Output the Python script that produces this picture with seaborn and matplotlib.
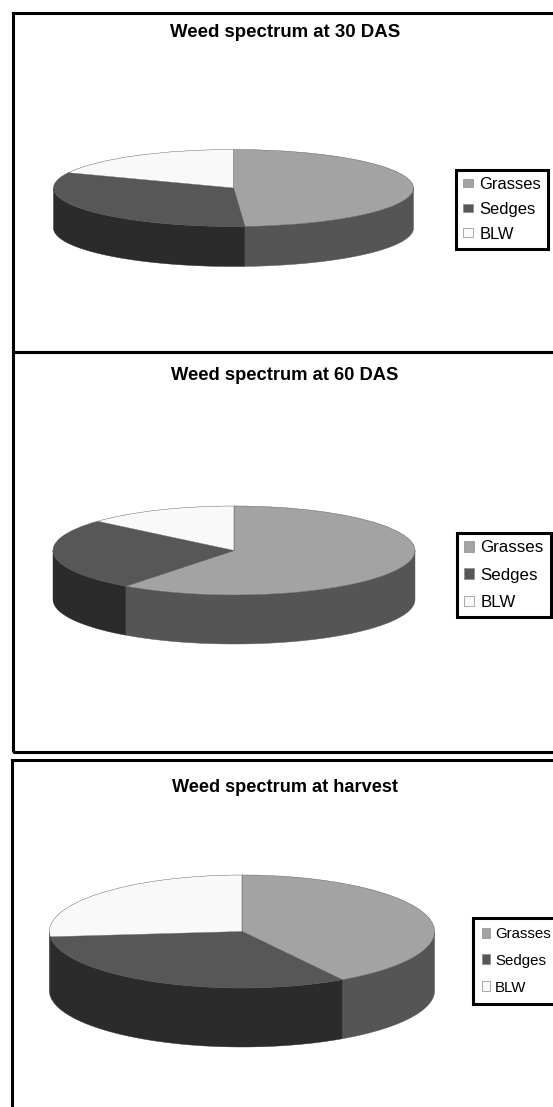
import numpy as np
import matplotlib
matplotlib.use("Agg")
import matplotlib.pyplot as plt
from matplotlib.patches import Patch, Rectangle
import seaborn as sns

# Share of each weed group (%)
categories = ["Grasses", "Sedges", "BLW"]
values_30_das = [49.0, 32.5, 18.5]
values_60_das = [60.2, 26.2, 13.6]
values_harvest = [41.3, 32.2, 26.5]
titles = ["Weed spectrum at 30 DAS", "Weed spectrum at 60 DAS", "Weed spectrum at harvest"]

WIDTH, HEIGHT = 553, 1107

sns.set_theme(style="white")
plt.rcParams["font.family"] = ["Liberation Sans", "DejaVu Sans"]

top_colors = sns.color_palette(["#a3a3a3", "#575757", "#f9f9f9"])
wall_colors = sns.color_palette(["#555555", "#2b2b2b", "#2b2b2b"])

# Page layout in pixels, measured from the top left corner
panels = [
    dict(values=values_30_das, title=titles[0], frame=(13, 13, 640, 352),
         cx=233.5, rx=180, cy=188, ry=38.5, depth=40,
         title_y=32.5, title_size=13.4,
         legend_xy=(456, 170), legend_size=11.9,
         spacing=0.6, pad=0.42, handle=(0.62, 0.45), gap=0.38),
    dict(values=values_60_das, title=titles[1], frame=(13, 352, 640, 752),
         cx=234, rx=181, cy=550.5, ry=44.5, depth=49,
         title_y=375, title_size=13.2,
         legend_xy=(457, 533), legend_size=12.2,
         spacing=0.72, pad=0.44, handle=(0.56, 0.6), gap=0.38),
    dict(values=values_harvest, title=titles[2], frame=(11.5, 760, 640, 1180),
         cx=242, rx=192.6, cy=931.5, ry=56.5, depth=59,
         title_y=787, title_size=13.1,
         legend_xy=(473, 918), legend_size=10.8,
         spacing=0.85, pad=0.6, handle=(0.54, 0.65), gap=0.32),
]


def draw_walls(ax, values, depth, colors):
    """Extrude the front half of the pie downward, slice by slice."""
    edges = np.cumsum([0.0] + list(values)) / np.sum(values) * 360.0
    for start, end, color in zip(edges[:-1], edges[1:], colors):
        lo, hi = max(start, 90.0), min(end, 270.0)
        if hi <= lo:
            continue
        t = np.radians(np.linspace(lo, hi, 120))
        x, y = np.sin(t), np.cos(t)
        ax.fill(np.r_[x, x[::-1]], np.r_[y, (y - depth)[::-1]],
                color=color, lw=0.3, clip_on=False, zorder=1)


fig = plt.figure(figsize=(WIDTH / 100, HEIGHT / 100), dpi=100, facecolor="white")

for p in panels:
    # Outer chart border; the right side runs off the page
    x0, y0, x1, y1 = p["frame"]
    fig.add_artist(Rectangle((x0 / WIDTH, 1 - y1 / HEIGHT), (x1 - x0) / WIDTH, (y1 - y0) / HEIGHT,
                             transform=fig.transFigure, fill=False, ec="black", lw=2.2))

    # The axes hug the tilted pie: one data unit equals rx across and ry down
    depth_units = p["depth"] / p["ry"]
    bottom_px = p["cy"] + p["ry"] + p["depth"]
    ax = fig.add_axes([(p["cx"] - p["rx"]) / WIDTH, 1 - bottom_px / HEIGHT,
                       2 * p["rx"] / WIDTH, (p["ry"] * 2 + p["depth"]) / HEIGHT])
    draw_walls(ax, p["values"], depth_units, wall_colors)
    wedges, _ = ax.pie(p["values"], startangle=90, counterclock=False, colors=top_colors,
                       radius=1, wedgeprops=dict(edgecolor="#555555", linewidth=0.3))
    for w in wedges:
        w.set_zorder(2)
        w.set_clip_on(False)
    ax.set_aspect("auto")
    ax.set_xlim(-1, 1)
    ax.set_ylim(-1 - depth_units, 1)
    ax.axis("off")

    fig.text(285 / WIDTH, 1 - p["title_y"] / HEIGHT, p["title"],
             ha="center", va="center", fontweight="bold", fontsize=p["title_size"], color="black")

    handles = [Patch(facecolor=c, edgecolor="#8a8a8a", linewidth=0.5) for c in top_colors]
    leg = fig.legend(handles, categories, loc="upper left",
                     bbox_to_anchor=(p["legend_xy"][0] / WIDTH, 1 - p["legend_xy"][1] / HEIGHT),
                     bbox_transform=fig.transFigure, borderaxespad=0,
                     fontsize=p["legend_size"], labelspacing=p["spacing"],
                     borderpad=p["pad"], handlelength=p["handle"][0], handleheight=p["handle"][1],
                     handletextpad=p["gap"],
                     fancybox=False, frameon=True, framealpha=1, edgecolor="black", labelcolor="black")
    leg.get_frame().set_linewidth(2.2)

fig.savefig("out.png", dpi=100, facecolor="white")
